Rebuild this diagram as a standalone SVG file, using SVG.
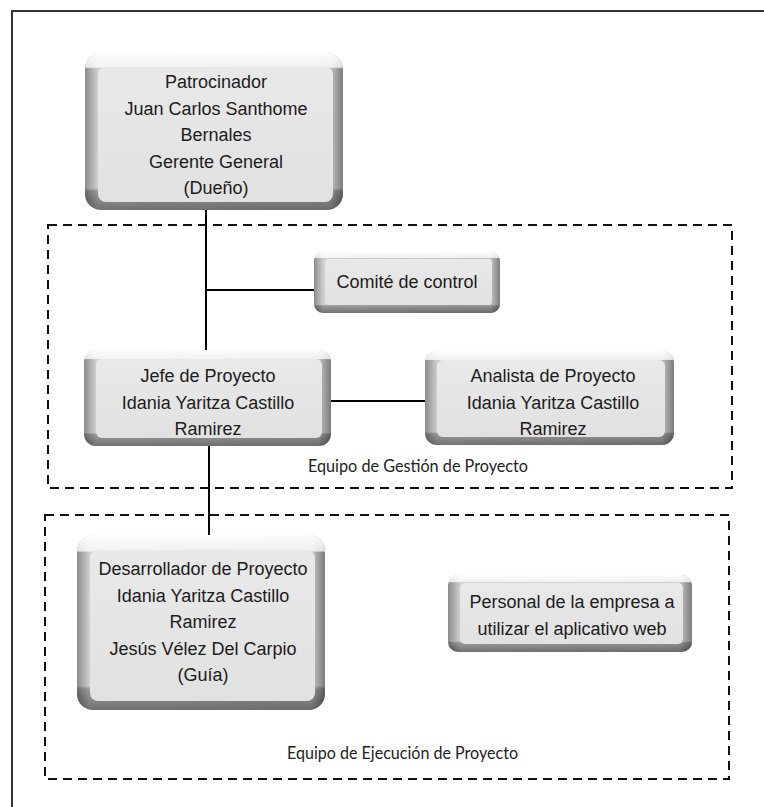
<svg xmlns="http://www.w3.org/2000/svg" width="764" height="807" viewBox="0 0 764 807">
  <defs>
    <!-- side bevels: dark outer edge fading to light near the face -->
    <linearGradient id="gH" x1="0" y1="0" x2="1" y2="0">
      <stop offset="0" stop-color="#8c8c8c"/>
      <stop offset="0.05" stop-color="#cfcfcf"/>
      <stop offset="0.95" stop-color="#c2c2c2"/>
      <stop offset="1" stop-color="#7c7c7c"/>
    </linearGradient>
    <!-- top highlight and bottom shadow laid over the sides -->
    <linearGradient id="gV" x1="0" y1="0" x2="0" y2="1">
      <stop offset="0" stop-color="#ffffff" stop-opacity="0.95"/>
      <stop offset="0.09" stop-color="#ffffff" stop-opacity="0.75"/>
      <stop offset="0.1" stop-color="#ffffff" stop-opacity="0"/>
      <stop offset="0.86" stop-color="#000000" stop-opacity="0"/>
      <stop offset="0.88" stop-color="#000000" stop-opacity="0.25"/>
      <stop offset="1" stop-color="#000000" stop-opacity="0.45"/>
    </linearGradient>
    <linearGradient id="gFace" x1="0" y1="0" x2="0" y2="1">
      <stop offset="0" stop-color="#e9e9e9"/>
      <stop offset="1" stop-color="#e1e1e1"/>
    </linearGradient>
  </defs>
  <style>
    .outer { fill: url(#gH); }
    .shade { fill: url(#gV); }
    .face { fill: url(#gFace); }
    .lbl { font-family: "Liberation Sans", Arial, sans-serif; font-size: 18px; fill: #1c1c1c; text-anchor: middle; }
    .grp { font-family: Lato, "Open Sans", sans-serif; font-size: 17px; fill: #222; }
    .zone { fill: none; stroke: #111; stroke-width: 2; stroke-dasharray: 9 6; }
    .wire { fill: none; stroke: #000; stroke-width: 2; }
  </style>

  <rect width="764" height="807" fill="#ffffff"/>

  <!-- page frame -->
  <rect x="12" y="11" width="780" height="830" fill="none" stroke="#333" stroke-width="2"/>

  <!-- team zones -->
  <g id="zones">
    <rect class="zone" x="48" y="225" width="684" height="263"/>
    <text class="grp" x="308" y="472" textLength="220" lengthAdjust="spacingAndGlyphs">Equipo de Gestión de Proyecto</text>
    <rect class="zone" x="45" y="515" width="684" height="264"/>
    <text class="grp" x="287" y="759" textLength="231" lengthAdjust="spacingAndGlyphs">Equipo de Ejecución de Proyecto</text>
  </g>

  <!-- connectors -->
  <g id="connectors">
    <path class="wire" d="M206 208 V352"/>
    <path class="wire" d="M206 290 H316"/>
    <path class="wire" d="M329 401 H427"/>
    <path class="wire" d="M209 444 V537"/>
  </g>

  <g id="patrocinador">
    <rect class="outer" x="85" y="53" width="258" height="157" rx="16"/>
    <rect class="shade" x="85" y="53" width="258" height="157" rx="16"/>
    <rect class="face" x="98" y="67" width="235" height="135" rx="8"/>
    <text class="lbl" x="216" y="88">Patrocinador</text>
    <text class="lbl" x="216" y="114.5">Juan Carlos Santhome</text>
    <text class="lbl" x="216" y="141">Bernales</text>
    <text class="lbl" x="216" y="167.5">Gerente General</text>
    <text class="lbl" x="216" y="194">(Dueño)</text>
  </g>

  <g id="comite">
    <rect class="outer" x="314" y="252" width="186" height="61" rx="9"/>
    <rect class="shade" x="314" y="252" width="186" height="61" rx="9"/>
    <rect class="face" x="325" y="259" width="167" height="46" rx="4"/>
    <text class="lbl" x="407" y="288">Comité de control</text>
  </g>

  <g id="jefe">
    <rect class="outer" x="84" y="350" width="247" height="96" rx="12"/>
    <rect class="shade" x="84" y="350" width="247" height="96" rx="12"/>
    <rect class="face" x="96" y="359" width="226" height="79" rx="6"/>
    <text class="lbl" x="208" y="382">Jefe de Proyecto</text>
    <text class="lbl" x="208" y="408.5">Idania Yaritza Castillo</text>
    <text class="lbl" x="208" y="435">Ramirez</text>
  </g>

  <g id="analista">
    <rect class="outer" x="425" y="351" width="249" height="94" rx="12"/>
    <rect class="shade" x="425" y="351" width="249" height="94" rx="12"/>
    <rect class="face" x="437" y="360" width="228" height="77" rx="6"/>
    <text class="lbl" x="553" y="382">Analista de Proyecto</text>
    <text class="lbl" x="553" y="408.5">Idania Yaritza Castillo</text>
    <text class="lbl" x="553" y="435">Ramirez</text>
  </g>

  <g id="desarrollador">
    <rect class="outer" x="77" y="535" width="248" height="175" rx="16"/>
    <rect class="shade" x="77" y="535" width="248" height="175" rx="16"/>
    <rect class="face" x="90" y="550" width="225" height="151" rx="8"/>
    <text class="lbl" x="203" y="575">Desarrollador de Proyecto</text>
    <text class="lbl" x="203" y="601.5">Idania Yaritza Castillo</text>
    <text class="lbl" x="203" y="628">Ramirez</text>
    <text class="lbl" x="203" y="654.5">Jesús Vélez Del Carpio</text>
    <text class="lbl" x="203" y="681">(Guía)</text>
  </g>

  <g id="personal">
    <rect class="outer" x="448" y="575" width="244" height="77" rx="10"/>
    <rect class="shade" x="448" y="575" width="244" height="77" rx="10"/>
    <rect class="face" x="460" y="583" width="223" height="61" rx="5"/>
    <text class="lbl" x="572" y="608">Personal de la empresa a</text>
    <text class="lbl" x="572" y="635">utilizar el aplicativo web</text>
  </g>
</svg>
